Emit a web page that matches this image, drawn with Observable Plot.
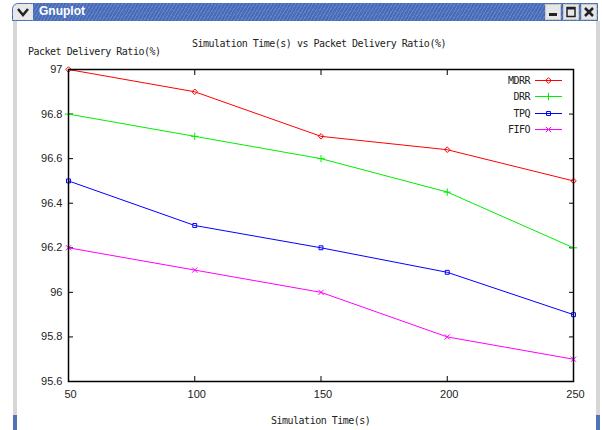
<!DOCTYPE html>
<html><head><meta charset="utf-8">
<script src="https://cdn.jsdelivr.net/npm/d3@7"></script>
<script src="https://cdn.jsdelivr.net/npm/@observablehq/plot@0.6"></script>
<style>
body{margin:0;background:#fff;}
#wrap{position:relative;width:602px;height:430px;overflow:hidden;background:#fff;}
#wrap svg{position:absolute;left:0;top:0;}
.mono{font-family:"DejaVu Sans Mono",monospace;font-size:10px;letter-spacing:-0.5px;color:#222;position:absolute;white-space:nowrap;line-height:1;}
#titlebar{position:absolute;left:12px;top:3px;width:586px;height:18px;border-top-left-radius:6px;
 background:repeating-linear-gradient(-60deg,#6284c8 0 1px,#4a6cb8 1px 3px);}
#titlebar .name{position:absolute;left:27px;top:1px;font:bold 12px "Liberation Sans",sans-serif;color:#fff;}
#menu{position:absolute;left:1px;top:1px;width:20px;height:16px;background:#e8e8e8;border-top-left-radius:5px;}
.btn{position:absolute;top:1px;width:16px;height:16px;background:#e6e6e6;border:1px solid #c8c8c8;box-sizing:border-box;}
.side{position:absolute;width:4px;background:#d6d6d6;}
.sideb{position:absolute;width:4px;background:#4f72b8;}
#legend{position:absolute;left:470px;top:75px;width:100px;}
#legend .row{position:relative;height:16.4px;width:100px;}
#legend .lab{position:absolute;left:0;top:0;width:60px;text-align:right;font-family:"DejaVu Sans Mono",monospace;font-size:10px;letter-spacing:-0.5px;color:#222;line-height:11px;}
#legend svg{position:absolute;left:65px;top:0;}
</style></head><body><div id="wrap">
<div id="titlebar"><div id="menu"><svg width="20" height="16"><path d="M5,5 L10,11 L15,5" fill="none" stroke="#222" stroke-width="2.5"/></svg></div><div class="name">Gnuplot</div></div>
<div class="btn" style="left:545px;top:4px"><svg width="14" height="14"><rect x="3" y="8" width="8" height="3" fill="#222"/></svg></div>
<div class="btn" style="left:563px;top:4px"><svg width="14" height="14"><rect x="3" y="2.5" width="8" height="9" fill="none" stroke="#222" stroke-width="1.5"/><rect x="3" y="2.5" width="8" height="2" fill="#222"/></svg></div>
<div class="btn" style="left:581px;top:4px"><svg width="14" height="14"><path d="M3,3 L11,11 M11,3 L3,11" stroke="#222" stroke-width="2.5"/></svg></div>
<div class="side" style="left:13px;top:21px;height:394px"></div>
<div class="sideb" style="left:13px;top:415px;height:15px"></div>
<div class="side" style="left:596px;top:21px;height:394px"></div>
<div class="sideb" style="left:596px;top:415px;height:15px"></div>
<div id="chart"></div>
<div class="mono" id="title" style="left:192px;top:39px">Simulation Time(s) vs Packet Delivery Ratio(%)</div>
<div class="mono" id="ylab" style="left:28px;top:47px">Packet Delivery Ratio(%)</div>
<div class="mono" id="xlab" style="left:271px;top:416px">Simulation Time(s)</div>
<div id="legend"></div>
</div>
<script>
const times = [50, 100, 150, 200, 250];
const mdrr = [97.0, 96.9, 96.7, 96.64, 96.5];
const drr = [96.8, 96.7, 96.6, 96.45, 96.2];
const tpq = [96.5, 96.3, 96.2, 96.09, 95.9];
const fifo = [96.2, 96.1, 96.0, 95.8, 95.7];
const seriesNames = ["MDRR", "DRR", "TPQ", "FIFO"];
const seriesColors = ["#ff0000", "#00ee00", "#0000ff", "#ff00ff"];
const seriesSymbols = ["diamond2", "plus", "square2", "times"];
const xTicks = [50, 100, 150, 200, 250];
const yTicks = [95.6, 95.8, 96, 96.2, 96.4, 96.6, 96.8, 97];

const seriesValues = [mdrr, drr, tpq, fifo];
const data = seriesNames.flatMap((s, k) => times.map((t, i) => ({series: s, time: t, value: seriesValues[k][i]})));

const chart = Plot.plot({
  width: 602, height: 430,
  marginLeft: 68, marginRight: 29, marginTop: 69, marginBottom: 49,
  style: {fontFamily: "Liberation Sans, sans-serif", fontSize: "11px", color: "#222", background: "transparent", overflow: "visible"},
  x: {domain: [50, 250], label: null},
  y: {domain: [95.6, 97], label: null},
  color: {domain: seriesNames, range: seriesColors},
  symbol: {domain: seriesNames, range: seriesSymbols},
  marks: [
    Plot.axisX(xTicks, {tickSize: 0, tickPadding: 9, dx: 2, label: null, tickFormat: d => String(d)}),
    Plot.axisX(xTicks, {tickSize: -5, fill: "none", label: null, stroke: "#000"}),
    Plot.axisX(xTicks, {anchor: "top", tickSize: -5, fill: "none", label: null, stroke: "#000"}),
    Plot.axisY(yTicks, {tickSize: 0, tickPadding: 6, label: null, tickFormat: d => String(d)}),
    Plot.axisY(yTicks, {tickSize: -5, fill: "none", label: null, stroke: "#000"}),
    Plot.axisY(yTicks, {anchor: "right", tickSize: -5, fill: "none", label: null, stroke: "#000"}),
    Plot.line(data, {x: "time", y: "value", z: "series", stroke: "series", strokeWidth: 1}),
    Plot.dot(data, {x: "time", y: "value", stroke: "series", symbol: "series", r: 2.5, strokeWidth: 1}),
    Plot.frame({stroke: "#000", strokeWidth: 1.5})
  ]
});
document.getElementById("chart").appendChild(chart);

// legend
const legend = document.getElementById("legend");
const sym = d3.scaleOrdinal(seriesNames, [d3.symbolDiamond2, d3.symbolPlus, d3.symbolSquare2, d3.symbolTimes]);
seriesNames.forEach((s, i) => {
  const row = document.createElement("div");
  row.className = "row";
  const lab = document.createElement("div");
  lab.className = "lab";
  lab.textContent = s;
  row.appendChild(lab);
  const svg = d3.create("svg").attr("width", 30).attr("height", 11);
  svg.append("line").attr("x1", 0).attr("x2", 27).attr("y1", 5.5).attr("y2", 5.5).attr("stroke", seriesColors[i]).attr("stroke-width", 1);
  svg.append("path").attr("transform", "translate(13.5,5.5)").attr("d", d3.symbol(sym(s), 20)()).attr("fill", "none").attr("stroke", seriesColors[i]);
  row.appendChild(svg.node());
  legend.appendChild(row);
});
</script>
</body></html>
